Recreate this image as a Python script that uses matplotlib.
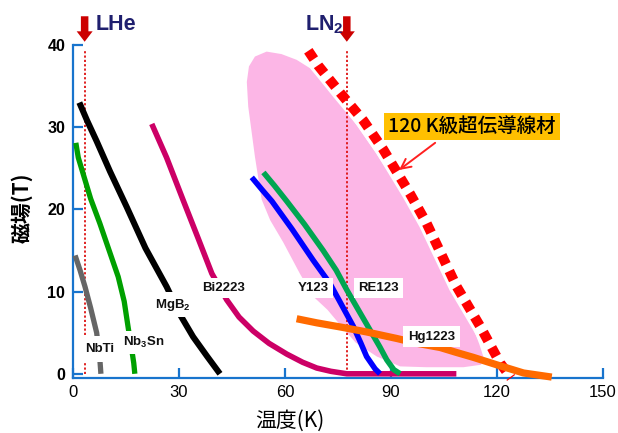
import matplotlib
matplotlib.use("Agg")
import matplotlib.pyplot as plt
from matplotlib.patches import Polygon

plt.rcParams["font.family"] = ["Liberation Sans", "DejaVu Sans"]
plt.rcParams["mathtext.fontset"] = "custom"
plt.rcParams["mathtext.rm"] = "Liberation Sans:bold"
plt.rcParams["mathtext.it"] = "Liberation Sans:bold"
plt.rcParams["mathtext.bf"] = "Liberation Sans:bold"
CJK = ["Noto Sans CJK JP", "DejaVu Sans"]

# --- critical-field curves: temperature (K) vs. field (T) ---
nbti_T = [0.6, 2.0, 3.4, 5.0, 6.7, 7.6, 7.9]
nbti_B = [14.4, 12.6, 10.6, 8.0, 5.0, 1.8, 0.0]

nb3sn_T = [0.8, 1.5, 2.9, 5.0, 7.6, 10.0, 12.8, 14.5, 15.7, 16.5, 17.2, 17.5]
nb3sn_B = [28.1, 26.3, 24.3, 21.3, 18.3, 15.3, 11.8, 8.8, 5.4, 3.3, 1.3, 0.0]

mgb2_T = [1.8, 4.0, 6.7, 10.5, 15.2, 20.5, 26.5, 30.3, 34.0, 38.0, 41.6]
mgb2_B = [33.0, 30.8, 28.3, 24.6, 20.3, 15.3, 10.6, 7.2, 4.5, 2.1, 0.0]

bi2223_T = [22.3, 26.5, 31.2, 35.5, 39.3, 43.5, 47.0, 51.0, 55.5, 60.5, 65.0,
            69.0, 73.0, 77.5, 85.0, 95.0, 108.5]
bi2223_B = [30.4, 26.3, 21.1, 16.4, 12.2, 9.0, 6.9, 5.2, 3.7, 2.4, 1.4,
            0.7, 0.3, 0.0, 0.0, 0.0, 0.0]

y123_T = [50.6, 53.5, 56.3, 62.0, 68.0, 72.7, 75.5, 79.3, 81.5, 83.1, 85.5, 86.9]
y123_B = [23.9, 22.4, 21.0, 17.6, 13.8, 11.0, 8.8, 5.8, 3.7, 2.1, 0.6, 0.0]

re123_T = [53.9, 57.0, 60.5, 65.5, 70.8, 74.5, 77.5, 81.0, 84.1, 86.8, 88.8, 90.8, 92.6]
re123_B = [24.5, 22.9, 21.0, 18.2, 15.0, 12.6, 10.2, 7.6, 5.3, 3.3, 1.7, 0.5, 0.0]

hg1223_T = [63.3, 69.0, 75.6, 83.0, 91.6, 97.5, 103.9, 108.5, 113.3, 119.9, 127.5, 135.5]
hg1223_B = [6.7, 6.2, 5.7, 5.1, 4.3, 3.7, 3.2, 2.6, 2.0, 1.1, 0.1, -0.4]

# 120 K class wire: target region and its boundary
region_T = [49.2, 49.8, 51.5, 54.8, 59.0, 63.3, 67.0, 70.5, 75.5, 80.5, 85.5, 90.5,
            95.5, 100.5, 105.0, 109.0, 112.5, 115.0, 116.2, 115.5, 110.5, 100.0,
            92.6, 86.0, 80.0, 76.5, 72.0, 68.0, 64.2, 59.5, 55.8, 53.4, 51.5, 49.6]
region_B = [35.5, 37.4, 38.6, 39.2, 38.9, 38.2, 37.2, 35.6, 33.1, 30.1, 27.0, 23.7,
            20.3, 16.8, 13.3, 9.9, 6.4, 3.6, 2.0, 1.1, 0.8, 0.8,
            0.9, 2.1, 3.8, 5.5, 7.8, 9.4, 12.2, 16.0, 18.7, 21.2, 26.4, 32.5]

limit_T = [66.6, 69.4, 75.6, 82.2, 87.8, 95.4, 100.1, 108.6, 115.2, 120.9, 124.0]
limit_B = [39.3, 37.5, 34.2, 30.8, 27.3, 21.9, 18.3, 10.6, 5.8, 1.3, -0.5]

# coolant temperatures
lhe_T = 3.3
ln2_T = 77.5

x_ticks = [0, 30, 60, 90, 120, 150]
y_ticks = [0, 10, 20, 30, 40]

spine_col = "#1874cd"

fig = plt.figure(figsize=(6.18, 4.33), dpi=100)
ax = fig.add_axes([0.1181, 0.1263, 0.8576, 0.7697])
ax.set_xlim(0, 150)
ax.set_ylim(-0.55, 40)

for side in ("top", "right"):
    ax.spines[side].set_visible(False)
for side in ("left", "bottom"):
    ax.spines[side].set_color(spine_col)
    ax.spines[side].set_linewidth(1.6)
    ax.spines[side].set_zorder(2.5)

ax.set_xticks(x_ticks)
ax.set_yticks(y_ticks)
ax.tick_params(axis="both", direction="in", length=7.5, width=1.6, color=spine_col)
ax.tick_params(axis="x", labelsize=12, pad=5)
ax.tick_params(axis="y", labelsize=11.5, pad=5.5)
for lab in ax.get_yticklabels():
    lab.set_fontweight("bold")

# target region
ax.add_patch(Polygon(list(zip(region_T, region_B)), closed=True,
                     facecolor="#fcb6e6", edgecolor="none", zorder=1))
# white band along the limit line
ax.plot(limit_T, limit_B, color="white", lw=11.5, solid_capstyle="butt",
        solid_joinstyle="round", zorder=1.5, clip_on=False)

# coolant temperature markers
for t in (lhe_T, ln2_T):
    ax.plot([t, t], [0, 39.4], color="#dd1111", lw=1.3, ls=(0, (1.2, 1.2)),
            zorder=2, clip_on=False)
    ax.annotate("", xy=(t, 40.4), xytext=(t, 43.5), xycoords="data",
                annotation_clip=False,
                arrowprops=dict(arrowstyle="simple,head_length=7.5,head_width=11.5,tail_width=5.4",
                                mutation_scale=1, fc="#cc0000", ec="none",
                                shrinkA=0, shrinkB=0))
fig.text(96 / 618, 1 - 30 / 433, "LHe", fontsize=15.5, fontweight="bold",
         color="#1f1f6e", va="baseline")
fig.text(305 / 618, 1 - 30 / 433, "LN$_2$", fontsize=15.5, fontweight="bold",
         color="#1f1f6e", va="baseline")

# conductor curves
curves = [
    (nbti_T, nbti_B, "#666666", 3.8, 3),
    (nb3sn_T, nb3sn_B, "#00a000", 3.8, 3),
    (mgb2_T, mgb2_B, "#000000", 4.4, 3),
    (bi2223_T, bi2223_B, "#cc0066", 4.0, 3),
    (y123_T, y123_B, "#0000ff", 4.0, 3),
    (re123_T, re123_B, "#00a651", 4.0, 3.1),
    (hg1223_T, hg1223_B, "#ff6a00", 5.2, 5),
]
for T, B, c, lw, z in curves:
    ax.plot(T, B, color=c, lw=lw, solid_capstyle="butt", solid_joinstyle="round",
            zorder=z, clip_on=False)

# 120 K class limit (thick square dots)
ax.plot(limit_T, limit_B, color="#ff0000", lw=7.2, ls=(0, (1, 0.75)),
        dash_capstyle="butt", zorder=4, clip_on=False)

# material labels
labels = [
    ("NbTi", 7.6, 3.0, 0.55),
    ("Nb$_3$Sn", 20.0, 3.8, 0.3),
    ("MgB$_2$", 28.4, 8.4, 0.35),
    ("Bi2223", 42.5, 10.4, 0.3),
    ("Y123", 68.0, 10.4, 0.3),
    ("RE123", 86.4, 10.4, 0.3),
    ("Hg1223", 101.5, 4.5, 0.35),
]
for s, x, y, pad in labels:
    ax.text(x, y, s, ha="center", va="center", fontsize=9.5, fontweight="bold",
            color="#111111", zorder=6,
            bbox=dict(boxstyle=f"square,pad={pad}", fc="white", ec="none"))

# callout
ax.text(112.9, 30.1, "120 K級超伝導線材", ha="center", va="center", fontsize=14,
        family=CJK, fontweight="medium", color="black", zorder=7,
        bbox=dict(boxstyle="square,pad=0.22", fc="#ffc000", ec="none"))
ax.annotate("", xy=(92.3, 24.8), xytext=(102.5, 28.1),
            arrowprops=dict(arrowstyle="->,head_length=0.7,head_width=0.35",
                            color="#ff2020", lw=1.4, shrinkA=0, shrinkB=0),
            zorder=7)

# axis titles
fig.text(290 / 618, 1 - 421 / 433, "温度(K)", ha="center", va="center",
         fontsize=15, family=CJK)
fig.text(22 / 618, 1 - 208 / 433, "磁場(T)", ha="center", va="center",
         rotation=90, fontsize=15, fontweight="bold", family=CJK)

fig.savefig("out.png", dpi=100)
